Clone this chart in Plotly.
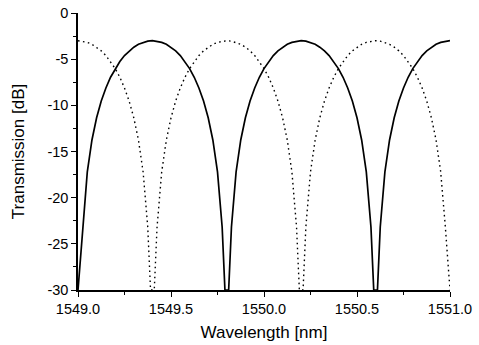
import plotly.graph_objects as go

# Wavelength grid [nm] (0.025 nm steps); at each interior null the clipped bottom spans null +/- 0.01 nm
grid = [round(1549.0 + 0.025 * k, 3) for k in range(81)]
solid_nulls = [1549.8, 1550.6]
dotted_nulls = [1549.4, 1550.2]

def with_null_floor(xs, ys, nulls):
    ox, oy = [], []
    for x, y in zip(xs, ys):
        if any(abs(x - n) < 1e-9 for n in nulls):
            ox += [round(x - 0.01, 3), round(x + 0.01, 3)]
            oy += [y, y]
        else:
            ox.append(x)
            oy.append(y)
    return ox, oy

# Transmission [dB] (solid: peaks at 1549.4/1550.2/1551.0)
solid_db = [
    -30.0, -23.18, -17.20, -13.75, -11.35, -9.54, -8.12, -6.96, -6.02, -5.25, -4.61, -4.10, -3.70, -3.39, -3.18, -3.05, -3.00,
    -3.05, -3.18, -3.39, -3.70, -4.10, -4.61, -5.25, -6.02, -6.96, -8.12, -9.54, -11.35, -13.75, -17.20, -23.18, -30.0,
    -23.18, -17.20, -13.75, -11.35, -9.54, -8.12, -6.96, -6.02, -5.25, -4.61, -4.10, -3.70, -3.39, -3.18, -3.05, -3.00,
    -3.05, -3.18, -3.39, -3.70, -4.10, -4.61, -5.25, -6.02, -6.96, -8.12, -9.54, -11.35, -13.75, -17.20, -23.18, -30.0,
    -23.18, -17.20, -13.75, -11.35, -9.54, -8.12, -6.96, -6.02, -5.25, -4.61, -4.10, -3.70, -3.39, -3.18, -3.05, -3.00,
]

# dotted: peaks at 1549.0/1549.8/1550.6
dotted_db = [
    -3.00, -3.05, -3.18, -3.39, -3.70, -4.10, -4.61, -5.25, -6.02, -6.96, -8.12, -9.54, -11.35, -13.75, -17.20, -23.18, -30.0,
    -23.18, -17.20, -13.75, -11.35, -9.54, -8.12, -6.96, -6.02, -5.25, -4.61, -4.10, -3.70, -3.39, -3.18, -3.05, -3.00,
    -3.05, -3.18, -3.39, -3.70, -4.10, -4.61, -5.25, -6.02, -6.96, -8.12, -9.54, -11.35, -13.75, -17.20, -23.18, -30.0,
    -23.18, -17.20, -13.75, -11.35, -9.54, -8.12, -6.96, -6.02, -5.25, -4.61, -4.10, -3.70, -3.39, -3.18, -3.05, -3.00,
    -3.05, -3.18, -3.39, -3.70, -4.10, -4.61, -5.25, -6.02, -6.96, -8.12, -9.54, -11.35, -13.75, -17.20, -23.18, -30.0,
]

x_ticks = [1549.0, 1549.5, 1550.0, 1550.5, 1551.0]
y_ticks = [0, -5, -10, -15, -20, -25, -30]

FONT = "Liberation Sans, Arial, sans-serif"

sx, sy = with_null_floor(grid, solid_db, solid_nulls)
dx, dy = with_null_floor(grid, dotted_db, dotted_nulls)

fig = go.Figure()
fig.add_trace(go.Scatter(x=dx, y=dy, mode="lines",
                         line=dict(color="black", width=1.4, dash="1.6px,3.4px"), showlegend=False))
fig.add_trace(go.Scatter(x=sx, y=sy, mode="lines",
                         line=dict(color="black", width=1.7), showlegend=False))

fig.update_layout(
    width=479, height=345,
    margin=dict(l=78, r=29, t=13, b=55),
    paper_bgcolor="white", plot_bgcolor="white",
    font=dict(family=FONT, color="black", size=14.5),
    xaxis=dict(
        range=[1549.0, 1551.0], tickvals=x_ticks, ticktext=[f"{v:.1f}" for v in x_ticks],
        showgrid=False, zeroline=False, showline=True, linecolor="black", linewidth=1.5,
        ticks="outside", ticklen=5, tickwidth=1.3, tickcolor="black",
        tickfont=dict(size=14.5), automargin=False,
        minor=dict(dtick=0.25, tick0=1549.0, ticks="outside", ticklen=3, tickwidth=1.2, tickcolor="black", showgrid=False),
        title=dict(text="Wavelength [nm]", font=dict(size=17), standoff=10),
    ),
    yaxis=dict(
        range=[-30, 0], tickvals=y_ticks, ticktext=[str(v) for v in y_ticks],
        showgrid=False, zeroline=False, showline=True, linecolor="black", linewidth=1.5,
        ticks="outside", ticklen=5, tickwidth=1.3, tickcolor="black",
        tickfont=dict(size=14.5), automargin=False,
        minor=dict(dtick=2.5, tick0=0, ticks="outside", ticklen=3, tickwidth=1.2, tickcolor="black", showgrid=False),
        title=dict(text="Transmission [dB]", font=dict(size=17), standoff=18),
    ),
)

fig.write_html("out.html", config={"displayModeBar": False},
               post_script="document.body.style.margin='0';")
